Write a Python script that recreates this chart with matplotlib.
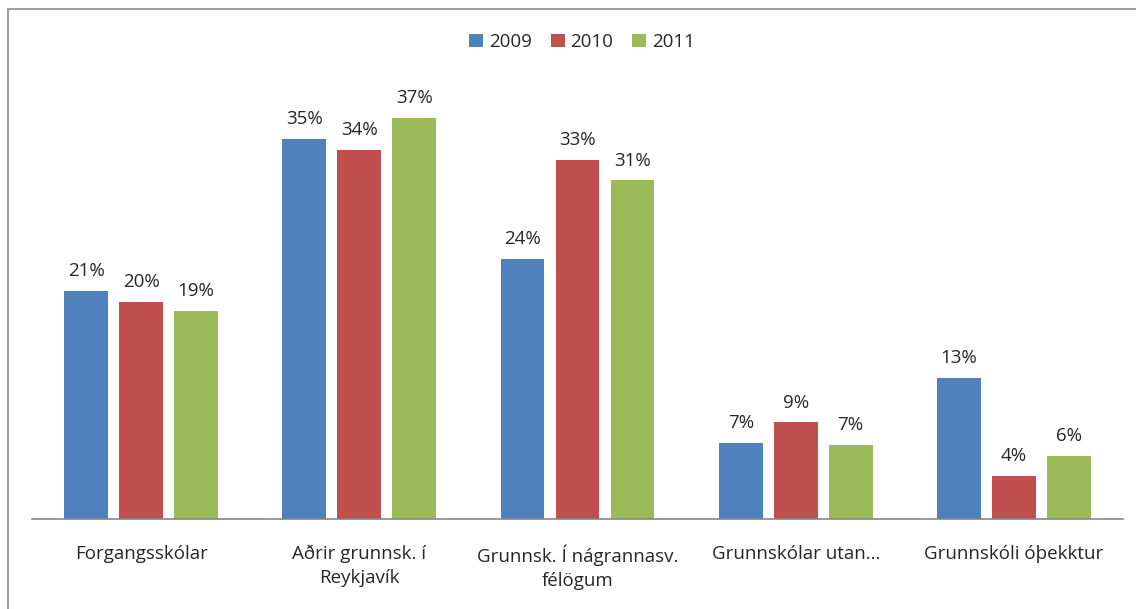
import matplotlib
matplotlib.use("Agg")
import matplotlib.pyplot as plt
import numpy as np

categories = ["Forgangsskólar", "Aðrir grunnsk. í\nReykjavík", "Grunnsk. Í nágrannasv.\nfélögum",
              "Grunnskólar utan...", "Grunnskóli óþekktur"]
years = ["2009", "2010", "2011"]
v2009 = [21.0, 35.0, 24.0, 7.0, 13.0]
v2010 = [20.0, 34.0, 33.1, 8.9, 4.0]
v2011 = [19.2, 37.0, 31.2, 6.8, 5.8]
colors = ["#4F81BD", "#C0504D", "#9BBB59"]

plt.rcParams['font.family'] = ['Open Sans', 'DejaVu Sans']
txt = "#262626"

fig = plt.figure(figsize=(11.36, 6.09), dpi=100)
# outer chart frame (cropped at right and bottom)
fig.patches.append(plt.Rectangle((8 / 1136, -0.1), 1.2, 1 - 9 / 609 + 0.1, transform=fig.transFigure,
                                 fill=False, edgecolor="#A0A0A0", linewidth=1.5))

ax = fig.add_axes([32 / 1136, 1 - 519 / 609, 1091 / 1136, 434 / 609])
x = np.arange(len(categories))
w = 0.2
step = 0.252
for i, (vals, yr) in enumerate(zip([v2009, v2010, v2011], years)):
    bars = ax.bar(x + (i - 1) * step, vals, w, color=colors[i], label=yr)
    for b, v in zip(bars, vals):
        ax.text(b.get_x() + b.get_width() / 2, v + 1.0, f"{round(v)}%", ha="center", va="bottom",
                fontsize=13.5, color=txt)

ax.set_xlim(-0.5, 4.5)
ax.set_ylim(0, 40)
ax.set_yticks([])
for s in ["top", "right", "left"]:
    ax.spines[s].set_visible(False)
ax.spines["bottom"].set_color("#868686")
ax.spines["bottom"].set_linewidth(1.2)
ax.set_xticks(x)
ax.set_xticklabels(categories, fontsize=13.5, color=txt, linespacing=1.45)
ax.tick_params(axis="x", length=0, pad=18.5)

fig.legend(loc="center", bbox_to_anchor=(582 / 1136, 1 - 42 / 609), ncol=3, frameon=False,
           fontsize=13.5, handlelength=0.75, handleheight=0.75, handletextpad=0.3, columnspacing=1.0,
           labelcolor=txt)

plt.savefig("out.png", dpi=100)
